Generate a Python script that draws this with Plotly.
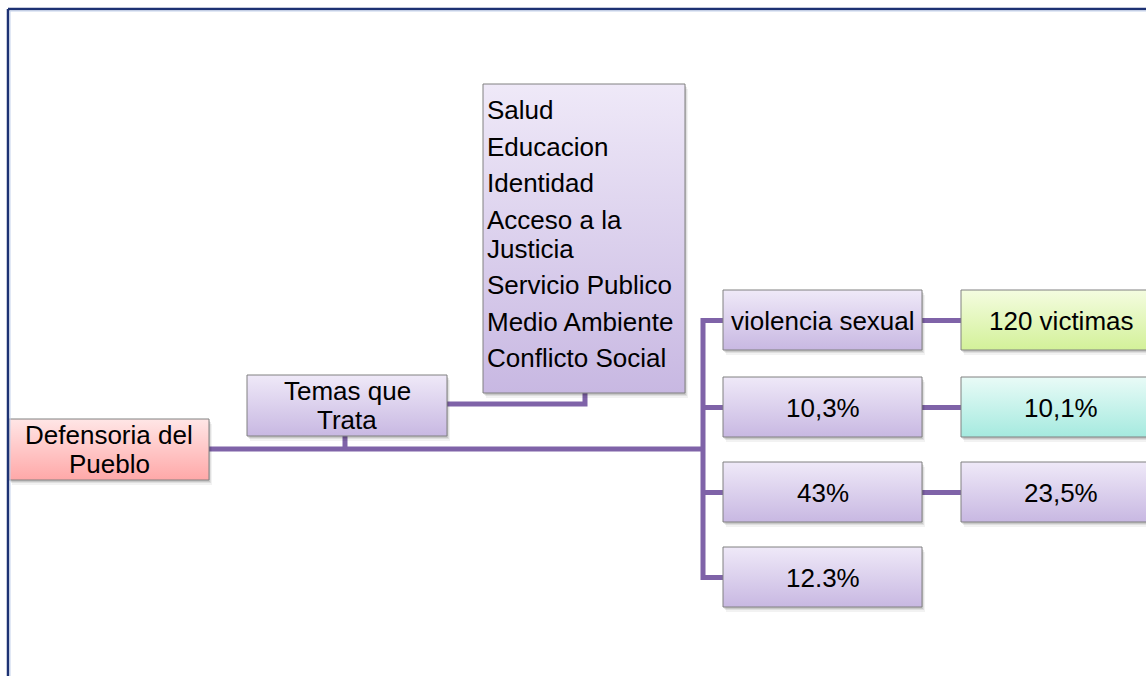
import plotly.graph_objects as go

# ---------------- data (labels of the diagram) ----------------
ROOT_LABEL = ["Defensoria del", "Pueblo"]
TOPIC_LABEL = ["Temas que", "Trata"]
TOPIC_ITEMS = [["Salud"], ["Educacion"], ["Identidad"], ["Acceso a la", "Justicia"],
               ["Servicio Publico"], ["Medio Ambiente"], ["Conflicto Social"]]
LEVEL2_LABELS = ["violencia sexual", "10,3%", "43%", "12.3%"]
LEVEL3_LABELS = ["120 victimas", "10,1%", "23,5%"]

# ---------------- styles ----------------
W, H = 1146, 676
FONT = "Liberation Sans, Arial, sans-serif"
FS = 26
LINE = "#7f63a8"
LW = 5
BORDER = "#808080"
PURPLE = ("#efe9f8", "#c8b8e2")
PINK = ("#ffe6e6", "#ffa8a8")
GREEN = ("#f4fce0", "#d3f199")
CYAN = ("#e9fbf7", "#a5eadf")
LEVEL3_FILLS = [GREEN, CYAN, PURPLE]

fig = go.Figure()
shapes = []
annotations = []


def add_box(x0, y0, x1, y1, colors):
    for dx, dy, a in [(1, 2, 0.10), (2, 3, 0.08), (3, 5, 0.05)]:
        shapes.append(dict(type="rect", x0=x0 + dx, x1=x1 + dx, y0=y0 + dy, y1=y1 + dy,
                           xref="x", yref="y", layer="below", line=dict(width=0),
                           fillcolor=f"rgba(0,0,0,{a})"))
    # colorscale 0 is drawn at the bottom of the box on screen
    fig.add_trace(go.Scatter(
        x=[x0, x1, x1, x0, x0], y=[y0, y0, y1, y1, y0], mode="lines",
        fill="toself", line=dict(color=BORDER, width=1),
        fillgradient=dict(type="vertical", colorscale=[[0, colors[1]], [1, colors[0]]]),
        hoverinfo="skip", showlegend=False))


def add_text(x, y, text, xanchor="center"):
    annotations.append(dict(x=x, y=y, xref="x", yref="y", text=text, showarrow=False,
                            xanchor=xanchor, yanchor="middle",
                            font=dict(family=FONT, size=FS, color="black")))


def add_path(path):
    shapes.append(dict(type="path", path=path, xref="x", yref="y", layer="below",
                       line=dict(color=LINE, width=LW)))


# ---------------- geometry ----------------
BW, BH = 200, 61
root = (9, 419)
topic = (247, 375)
lst = (483, 84, 685, 393)
L2X = 723
L3X = 961
ROW_TOPS = [290, 377, 462, 547]
TRUNK_X = 703
MAIN_Y = 449
WRAP = 29          # spacing between wrapped lines
PARA = 36.5        # spacing between list paragraphs

# connectors
add_path(f"M {root[0] + BW} {MAIN_Y} L {TRUNK_X} {MAIN_Y}")
add_path(f"M {topic[0] + 98} {topic[1] + BH} L {topic[0] + 98} {MAIN_Y}")
add_path(f"M {topic[0] + BW} 404 L 585 404 L 585 {lst[3]}")
cys = [t + BH / 2 for t in ROW_TOPS]
add_path(f"M {L2X} {cys[0]} L {TRUNK_X} {cys[0]} L {TRUNK_X} {cys[-1]} L {L2X} {cys[-1]}")
for cy in cys[1:-1]:
    add_path(f"M {TRUNK_X} {cy} L {L2X} {cy}")
for i in range(len(LEVEL3_LABELS)):
    add_path(f"M {L2X + BW - 1} {cys[i]} L {L3X} {cys[i]}")

# root box
add_box(root[0], root[1], root[0] + BW, root[1] + BH, PINK)
rc = root[1] + BH / 2
for k, t in enumerate(ROOT_LABEL):
    add_text(root[0] + BW / 2, rc - WRAP / 2 + WRAP * k, t)

# topic box
add_box(topic[0], topic[1], topic[0] + BW, topic[1] + BH, PURPLE)
tc = topic[1] + BH / 2
for k, t in enumerate(TOPIC_LABEL):
    add_text(topic[0] + BW / 2, tc - WRAP / 2 + WRAP * k, t)

# list box
add_box(*lst, PURPLE)
base = 119
for item in TOPIC_ITEMS:
    for j, line in enumerate(item):
        add_text(lst[0] + 2, base - 9, line, xanchor="left")
        if j < len(item) - 1:
            base += WRAP
    base += PARA

# level 2
for i, lab in enumerate(LEVEL2_LABELS):
    add_box(L2X, ROW_TOPS[i], L2X + BW - 1, ROW_TOPS[i] + BH - 1, PURPLE)
    add_text(L2X + BW / 2, cys[i], lab)

# level 3
for i, lab in enumerate(LEVEL3_LABELS):
    add_box(L3X, ROW_TOPS[i], L3X + BW - 1, ROW_TOPS[i] + BH - 1, LEVEL3_FILLS[i])
    add_text(L3X + BW / 2, cys[i], lab)

# frame (top and left edges)
shapes.append(dict(type="line", x0=8, x1=W + 5, y0=9, y1=9, xref="x", yref="y",
                   line=dict(color="#1d3273", width=2.5), layer="above"))
shapes.append(dict(type="line", x0=8, x1=8, y0=9, y1=H + 5, xref="x", yref="y",
                   line=dict(color="#1d3273", width=2.5), layer="above"))
shapes.append(dict(type="line", x0=10, x1=W + 5, y0=11, y1=11, xref="x", yref="y",
                   line=dict(color="#c3d1ec", width=1), layer="above"))
shapes.append(dict(type="line", x0=10, x1=10, y0=11, y1=H + 5, xref="x", yref="y",
                   line=dict(color="#c3d1ec", width=1), layer="above"))

fig.update_layout(
    width=W, height=H, autosize=False,
    margin=dict(l=0, r=0, t=0, b=0, pad=0),
    paper_bgcolor="white", plot_bgcolor="white",
    xaxis=dict(range=[0, W], visible=False, fixedrange=True),
    yaxis=dict(range=[H, 0], visible=False, fixedrange=True),
    shapes=shapes, annotations=annotations, showlegend=False,
)

fig.write_html("out.html", config={"displayModeBar": False},
               post_script="document.body.style.margin='0';")
